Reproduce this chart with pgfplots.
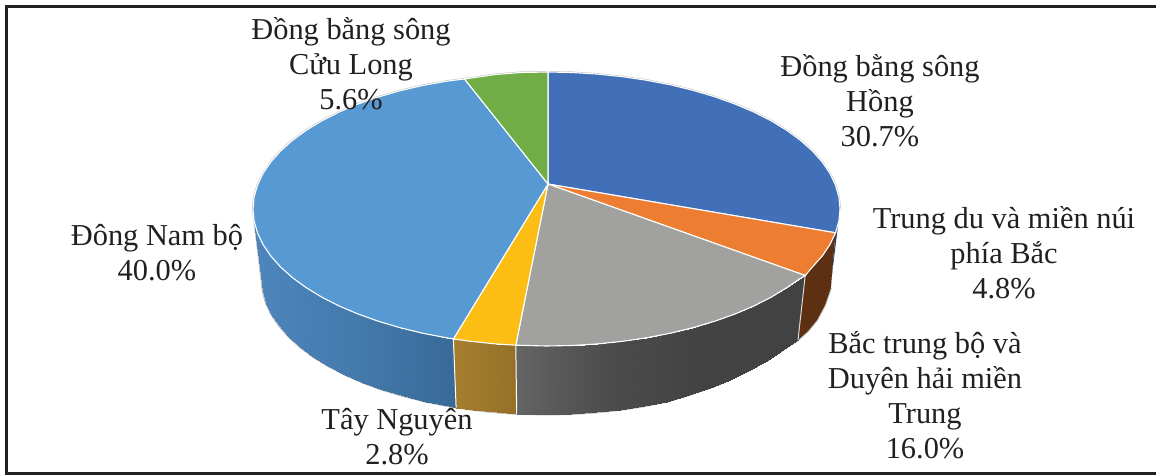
\documentclass[border=0pt]{standalone}
\usepackage{pgfplots}
\pgfplotsset{compat=1.18}
\usepackage{fontspec}
\setmainfont{Liberation Serif}
\definecolor{txt}{RGB}{35,31,32}
\definecolor{cdb}{RGB}{65,111,184}
\definecolor{cor}{RGB}{236,125,49}
\definecolor{cgr}{RGB}{161,162,160}
\definecolor{cye}{RGB}{252,190,20}
\definecolor{clb}{RGB}{87,153,210}
\definecolor{cgn}{RGB}{112,173,71}
\definecolor{cbr}{RGB}{92,48,17}
\definecolor{cds}{RGB}{40,60,115}
\definecolor{edg}{RGB}{190,190,190}
\tikzset{lbl/.style={font=\fontsize{30.4}{35}\selectfont, text=txt, align=center, inner sep=0pt}}
\begin{document}
\begin{tikzpicture}
\begin{axis}[
  scale only axis, width=1156pt, height=475pt,
  xmin=0, xmax=1156, ymin=0, ymax=475, y dir=reverse,
  hide axis, clip=false,
  every axis plot/.append style={no markers},
]
\path[use as bounding box] (axis cs:0,0) rectangle (axis cs:1156,475);
% frame
\addplot[draw=txt, line width=3pt] coordinates {(1156,6)(6,6)(6,473)(1156,473)};
% outer shadow edges
\addplot[draw=edg, line width=2pt] coordinates {(253,209)(261.5,279)(262.6,290.8)(265.8,302.5)(271.2,314.1)(278.7,325.3)(288.2,336.3)(299.7,346.8)(313,356.7)(328.2,366.1)(345,374.8)(363.3,382.8)(383,390)(404,396.3)(426.1,401.8)(449,406.3)(472.7,409.9)(497,412.4)(516.7,413.8)(546.5,414.5)(571.4,414)(596,412.4)(620.3,409.9)(644,406.3)(667,401.5)(689,395)(710,388)(729.7,379.5)(748,371)(764.8,361.5)(780,352)(793.3,343)(798,340)(808,331)(817,320)(825,305)(830.8,288)};
\addplot[draw=edg, line width=2pt] coordinates {(253,209)(254.1,197.1)(257.5,185.2)(263,173.5)(270.7,162.1)(280.5,151.1)(292.3,140.5)(306.1,130.4)(321.7,120.9)(339,112.1)(357.8,104.1)(378.2,97)(399.7,90.8)(422.5,85.5)(446.1,81.3)(464.5,79)(495.5,74.5)(520.9,72.5)(546.5,72)(572.1,72.5)(597.5,74.1)(622.5,76.7)(646.9,80.3)(670.5,84.8)(693.3,90.4)(714.8,96.8)(735.2,104.1)(754,112.1)(771.3,120.9)(786.9,130.4)(800.7,140.5)(812.5,151.1)(822.3,162.1)(830,173.5)(835.5,185.2)(838.9,197.1)(840,209)};
% walls
\addplot[surf, shader=interp, mesh/rows=2, point meta=x, point meta rel=per plot,
  colormap={wb}{rgb255=(78,133,188) rgb255=(68,122,172) rgb255=(56,106,152)}] coordinates {
  (253,209)(254.1,220.9)(257.5,232.8)(263,244.5)(270.7,255.9)(280.5,266.9)(292.3,277.5)(306.1,287.6)(321.7,297.1)(339,305.9)(357.8,313.9)(378.2,321.2)(399.7,327.6)(422.5,333.2)(446.1,337.7)(453.4,338.9)
  (261.5,279)(262.6,290.8)(265.8,302.5)(271.2,314.1)(278.7,325.3)(288.2,336.3)(299.7,346.8)(313,356.7)(328.2,366.1)(345,374.8)(363.3,382.8)(383,390)(404,396.3)(426.1,401.8)(449,406.3)(456.1,407.5)};
\addplot[surf, shader=interp, mesh/rows=2, point meta=x, point meta rel=per plot,
  colormap={wy}{rgb255=(166,126,46) rgb255=(148,112,40)}] coordinates {
  (453.4,338.9)(470.5,341.3)(495.5,343.9)(515.8,345.2)
  (456.1,407.5)(472.7,409.9)(497,412.4)(516.7,413.8)};
\addplot[surf, shader=interp, mesh/rows=2, point meta=x, point meta rel=per plot,
  colormap={wg}{rgb255=(100,100,100) rgb255=(74,75,74) rgb255=(66,66,66) rgb255=(66,66,66)}] coordinates {
  (515.8,345.2)(546.5,346)(572.1,345.5)(597.5,343.9)(622.5,341.3)(646.9,337.7)(670.5,333.2)(693.3,327.6)(714.8,321.2)(735.2,313.9)(754,305.9)(771.3,297.1)(786.9,287.6)(799.5,279)(805.2,275.5)
  (516.7,413.8)(546.5,414.5)(571.4,414)(596,412.4)(620.3,409.9)(644,406.3)(667,401.5)(689,395)(710,388)(729.7,379.5)(748,371)(764.8,361.5)(780,352)(793.3,343)(798,340)};
\addplot[fill=cbr, draw=none] coordinates {(805.2,275.5)(812.5,266.9)(822.3,255.9)(830,244.5)(835.5,232.8)(830.8,288)(825,305)(817,320)(808,331)(798,340)} --cycle;
\addplot[fill=cds, draw=none] coordinates {(835.5,232.8)(838.9,220.9)(840,209)(831.5,279)(830.8,288)} --cycle;
% wall dividers
\addplot[draw=white, line width=1pt] coordinates {(453.4,338.9)(456.1,407.5)};
\addplot[draw=white, line width=1pt] coordinates {(515.8,345.2)(516.7,413.8)};
\addplot[draw=white!85!black, line width=1pt] coordinates {(805.2,275.5)(798,340)};
% top slices
\addplot[fill=cdb, draw=white, line width=1.1pt] coordinates {(548,184)(548,72)(572.1,72.5)(597.5,74.1)(622.5,76.7)(646.9,80.3)(670.5,84.8)(693.3,90.4)(714.8,96.8)(735.2,104.1)(754,112.1)(771.3,120.9)(786.9,130.4)(800.7,140.5)(812.5,151.1)(822.3,162.1)(830,173.5)(835.5,185.2)(838.9,197.1)(840,209)(838.9,220.9)(835.5,232.8)} --cycle;
\addplot[fill=cor, draw=white, line width=1.1pt] coordinates {(548,184)(835.5,232.8)(830,244.5)(822.3,255.9)(812.5,266.9)(805.2,275.5)} --cycle;
\addplot[fill=cgr, draw=white, line width=1.1pt] coordinates {(548,184)(805.2,275.5)(799.5,279)(786.9,287.6)(771.3,297.1)(754,305.9)(735.2,313.9)(714.8,321.2)(693.3,327.6)(670.5,333.2)(646.9,337.7)(622.5,341.3)(597.5,343.9)(572.1,345.5)(546.5,346)(515.8,345.2)} --cycle;
\addplot[fill=cye, draw=white, line width=1.1pt] coordinates {(548,184)(515.8,345.2)(495.5,343.9)(470.5,341.3)(453.4,338.9)} --cycle;
\addplot[fill=clb, draw=white, line width=1.1pt] coordinates {(548,184)(453.4,338.9)(446.1,337.7)(422.5,333.2)(399.7,327.6)(378.2,321.2)(357.8,313.9)(339,305.9)(321.7,297.1)(306.1,287.6)(292.3,277.5)(280.5,266.9)(270.7,255.9)(263,244.5)(257.5,232.8)(254.1,220.9)(253,209)(254.1,197.1)(257.5,185.2)(263,173.5)(270.7,162.1)(280.5,151.1)(292.3,140.5)(306.1,130.4)(321.7,120.9)(339,112.1)(357.8,104.1)(378.2,97)(399.7,90.8)(422.5,85.5)(446.1,81.3)(464.5,79)} --cycle;
\addplot[fill=cgn, draw=white, line width=1.1pt] coordinates {(548,184)(464.5,79)(495.5,74.5)(520.9,72.5)(548,72)} --cycle;
% labels
\node[lbl] at (axis cs:351,64) {Đồng bằng sông\\Cửu Long\\5.6\%};
\node[lbl] at (axis cs:880,101) {Đồng bằng sông\\Hồng\\30.7\%};
\node[lbl] at (axis cs:1004,253) {Trung du và miền núi\\phía Bắc\\4.8\%};
\node[lbl] at (axis cs:925,395) {Bắc trung bộ và\\Duyên hải miền\\Trung\\16.0\%};
\node[lbl] at (axis cs:397,437) {Tây Nguyên\\2.8\%};
\node[lbl] at (axis cs:157,253) {Đông Nam bộ\\40.0\%};
\end{axis}
\end{tikzpicture}
\end{document}
